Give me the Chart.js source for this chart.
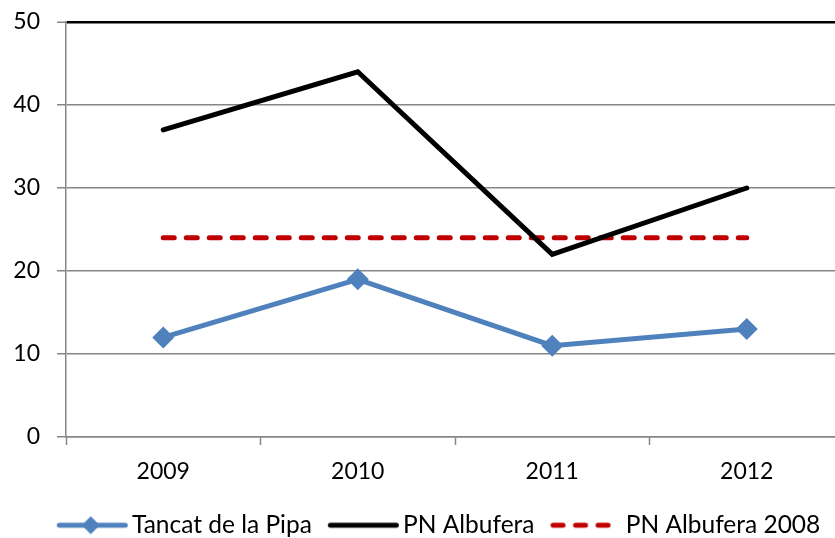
<!DOCTYPE html>
<html lang="es">
<head>
<meta charset="UTF-8">
<title>Tancat de la Pipa - PN Albufera</title>
<style>
  html, body { margin: 0; padding: 0; background: #fff; overflow: hidden; }
  #wrap { width: 880px; height: 538px; }
</style>
</head>
<body>
<div id="wrap"><canvas id="chart" width="880" height="538"></canvas></div>

<script src="https://cdn.jsdelivr.net/npm/chart.js"></script>
<script>
// datos
const years = ['2009', '2010', '2011', '2012'];
const tancat = [12, 19, 11, 13];
const albufera = [37, 44, 22, 30];
const albufera2008 = [24, 24, 24, 24];
const yTicks = [0, 10, 20, 30, 40, 50];

const blue = '#4F81BD';
const red = '#C00000';
const grey = '#868686';
const font = 'Lato';

// iconos de la leyenda (línea + marcador), centrados en la caja de Chart.js
function legendIcon(draw) {
    const c = document.createElement('canvas');
    c.width = 90;
    c.height = 24;
    const ctx = c.getContext('2d');
    ctx.lineWidth = 5;
    ctx.lineCap = 'round';
    draw(ctx);
    return c;
}
const icons = [
    legendIcon(ctx => {
        ctx.strokeStyle = blue;
        ctx.beginPath(); ctx.moveTo(14.5, 12); ctx.lineTo(80.5, 12); ctx.stroke();
        ctx.fillStyle = blue;
        ctx.beginPath(); ctx.moveTo(46, 3); ctx.lineTo(55, 12); ctx.lineTo(46, 21); ctx.lineTo(37, 12); ctx.closePath(); ctx.fill();
    }),
    legendIcon(ctx => {
        ctx.strokeStyle = '#000';
        ctx.beginPath(); ctx.moveTo(14.5, 12); ctx.lineTo(80.5, 12); ctx.stroke();
    }),
    legendIcon(ctx => {
        ctx.strokeStyle = red;
        ctx.setLineDash([10, 12.5]);
        ctx.beginPath(); ctx.moveTo(14.5, 12); ctx.lineTo(70, 12); ctx.stroke();
    })
];

// la leyenda del original está algo desplazada a la derecha
const legendShift = {
    id: 'legendShift',
    afterLayout(chart) {
        chart.legend.left += 13;
        chart.legend.right += 13;
    }
};

new Chart(document.getElementById('chart'), {
    type: 'line',
    data: {
        labels: years,
        datasets: [
            {
                label: 'Tancat de la Pipa',
                data: tancat,
                borderColor: blue,
                backgroundColor: blue,
                borderWidth: 5,
                pointStyle: 'rectRot',
                pointRadius: 11,
                pointBorderWidth: 0,
                tension: 0
            },
            {
                label: 'PN Albufera',
                data: albufera,
                borderColor: '#000',
                backgroundColor: '#000',
                borderWidth: 5,
                borderCapStyle: 'round',
                pointRadius: 0,
                tension: 0
            },
            {
                label: 'PN Albufera 2008',
                data: albufera2008,
                borderColor: red,
                backgroundColor: red,
                borderWidth: 5,
                borderDash: [11, 12],
                borderCapStyle: 'round',
                pointRadius: 0,
                tension: 0
            }
        ]
    },
    options: {
        responsive: false,
        animation: false,
        layout: { padding: { top: 22, left: 10, right: 36, bottom: -9.5 } },
        scales: {
            x: {
                offset: true,
                afterFit: s => { s.paddingLeft = 0; s.paddingRight = 0; s.height = 57; },
                grid: { offset: true, drawOnChartArea: false, tickLength: 8, tickColor: grey, tickWidth: 1.5 },
                border: { color: grey, width: 1.5 },
                ticks: { color: '#000', padding: 13, font: { family: font, size: 23 }, maxRotation: 0 }
            },
            y: {
                min: 0,
                max: 50,
                afterBuildTicks: s => { s.ticks = yTicks.map(v => ({ value: v })); },
                afterFit: s => { s.width = 56; s.paddingTop = 0; s.paddingBottom = 0; },
                grid: {
                    color: c => c.tick && c.tick.value === 50 ? '#000' : grey,
                    lineWidth: c => c.tick && c.tick.value === 50 ? 2.5 : 1.5,
                    tickLength: 9,
                    tickColor: grey,
                    tickWidth: 1.5
                },
                border: { color: grey, width: 1.5 },
                ticks: { color: '#000', padding: 17, font: { family: font, size: 23 } }
            }
        },
        plugins: {
            legend: {
                position: 'bottom',
                labels: {
                    usePointStyle: true,
                    pointStyleWidth: 60,
                    boxHeight: 24,
                    padding: 19,
                    color: '#000',
                    font: { family: font, size: 24.5 },
                    generateLabels: chart => chart.data.datasets.map((ds, i) => ({
                        text: ds.label,
                        pointStyle: icons[i],
                        datasetIndex: i,
                        hidden: false,
                        lineWidth: 0,
                        fontColor: '#000'
                    }))
                }
            },
            tooltip: { enabled: false }
        }
    },
    plugins: [legendShift]
});
</script>
</body>
</html>
